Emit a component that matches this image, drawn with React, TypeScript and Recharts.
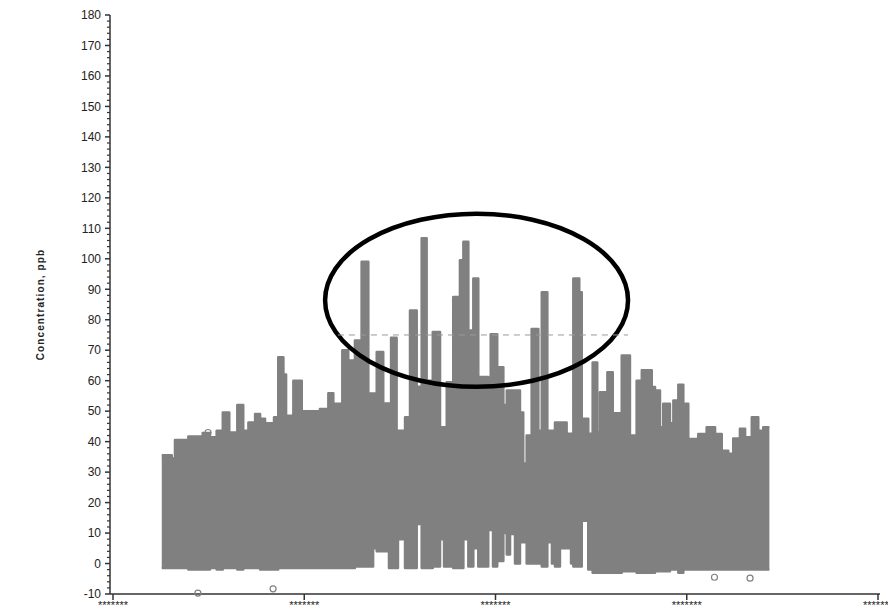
import React from 'react';
import {
  ComposedChart,
  Area,
  Scatter,
  XAxis,
  YAxis,
  ReferenceLine,
  ReferenceArea,
} from 'recharts';

// Day index along the time axis (segment start), the upper and lower envelope of the hourly data
const days = [
  25.5, 30.7, 32.4, 39.4, 46.9, 50.7, 54.2, 57.4, 60.8, 65.0, 68.1, 70.8, 74.3, 76.9, 79.5, 84.2,
  86.4, 89.1, 90.5, 94.3, 98.7, 108.2, 112.6, 115.2, 119.9, 123.0, 126.5, 130.0, 133.5, 136.0,
  137.9, 141.3, 143.3, 144.3, 145.4, 148.3, 149.0, 152.7, 155.3, 158.8, 161.4, 164.0, 167.2,
  171.0, 173.1, 174.5, 177.9, 181.4, 183.2, 185.8, 188.4, 191.0, 196.2, 197.5, 198.7, 200.9,
  204.1, 205.9, 207.6, 210.2, 212.8, 214.5, 216.3, 218.9, 222.4, 224.2, 227.1, 229.5, 231.1,
  233.7, 237.2, 239.5, 240.7, 243.8, 245.1, 248.5, 250.8, 253.2, 254.6, 258.5, 261.3, 266.0,
  270.3, 273.8, 276.5, 281.7, 283.4, 286.0, 287.7, 291.2, 293.0, 295.6, 298.2, 300.8, 306.0,
  310.4, 314.8, 318.3, 321.7, 324.3, 327.8, 330.5, 334.0, 337.4, 340.0, 343.2,
];
const highs = [
  35.5, 34.5, 40.5, 41.7, 42.8, 41.4, 43.6, 49.6, 43.0, 52.0, 43.6, 46.3, 49.1, 47.5, 46.0, 48.0,
  67.7, 62.0, 48.5, 60.0, 50.0, 50.7, 55.9, 52.4, 70.0, 66.6, 73.2, 99.0, 55.8, 55.8,
  69.4, 52.5, 52.5, 52.5, 74.1, 43.6, 43.6, 48.0, 83.0, 58.0, 106.7, 60.0, 76.0,
  44.7, 44.7, 59.5, 87.5, 99.5, 105.6, 76.5, 93.5, 61.2, 52.5, 75.2, 75.2, 64.4,
  52.0, 56.8, 56.8, 56.8, 49.6, 32.8, 42.0, 77.0, 43.6, 89.0, 43.6, 43.6, 46.3,
  46.3, 42.6, 42.6, 93.5, 89.0, 47.5, 42.6, 66.0, 43.0, 56.2, 62.8, 49.3, 68.3,
  42.0, 60.0, 63.4, 57.9, 56.8, 44.7, 52.4, 46.0, 53.5, 58.7, 52.4, 40.9, 42.5,
  44.7, 42.5, 37.0, 36.0, 41.0, 44.2, 41.4, 48.0, 43.6, 44.7, 44.7,
];
const lows = [
  -1.5, -1.5, -1.5, -2, -2, -1.5, -2, -1.5, -1.5, -2, -1.5, -1.5, -1.5, -2, -2, -2,
  -1.5, -1.5, -1.5, -1.5, -1.5, -1.5, -1.5, -1.5, -1.5, -1.5, -1, -1, -1, 5,
  4, 4, 25, -1.5, -1.5, -1.5, 8, -1.5, -1.5, 13, -1.5, -1.5, -1,
  8, -1, -1, -1.5, -1.5, 8, -1, 5, -1, 11, 11, -1, 0.8,
  10, 3, 9.7, 0, 7, 7, 0, 0, 0, -1, 7, 0, -1,
  5, 5, 0, -1, -1, 14, -2, -3, -3, -3, -3, -3, -2.5,
  -2.5, -3, -3, -3, -2.5, -2.5, -2.5, -2, -2, -3, -2, -2, -2,
  -2, -2, -2, -2, -2, -2, -2, -2, -2, -2, -2,
];

// Isolated hourly readings drawn as open circles
const outlierDays = [44.4, 83.7, 314.5, 333.1, 49.7];
const outlierValues = [-9.7, -8.3, -4.5, -4.8, 43.0];

const xTicks = [0, 100, 200, 300, 400];
const xTickLabels = ['*******', '*******', '*******', '*******', '*******'];
const yTicks = [-10, 0, 10, 20, 30, 40, 50, 60, 70, 80, 90, 100, 110, 120, 130, 140, 150, 160, 170, 180];
const yMinorTicks = Array.from({ length: 96 }, (_, i) => -10 + 2 * i);

const standardLevel = 75;
const standardFrom = 117.6;
const standardTo = 269.3;
const ellipseDays = [110.9, 269.3];
const ellipseValues = [58.0, 114.8];

const GRAY = '#808080';
const AXIS = '#333';

const bodyData = days.map((d, i) => ({ day: d, range: [lows[i], highs[i]] }));
const outlierData = outlierDays.map((d, i) => ({ day: d, value: outlierValues[i] }));

const EllipseShape = (props: any) => {
  const { x, y, width, height } = props;
  const h = Math.abs(height);
  const top = height < 0 ? y + height : y;
  return (
    <ellipse
      cx={x + width / 2}
      cy={top + h / 2}
      rx={width / 2}
      ry={h / 2}
      fill="none"
      stroke="#000"
      strokeWidth={4.5}
    />
  );
};

const OpenCircle = (props: any) => (
  <circle cx={props.cx} cy={props.cy} r={3} fill="none" stroke={GRAY} strokeWidth={1.2} />
);

// Y tick: long mark + label for majors, short mark for minors
const YTick = (props: any) => {
  const { x, y, payload } = props;
  const v = payload.value;
  const major = yTicks.includes(v);
  return (
    <g>
      <line x1={x - (major ? 5 : 3)} x2={x} y1={y} y2={y} stroke={AXIS} strokeWidth={major ? 1.5 : 1.2} />
      {major && (
        <text x={x - 9} y={y} dy="0.355em" textAnchor="end" fontSize={12} fill="#222">
          {v}
        </text>
      )}
    </g>
  );
};

export default function App() {
  return (
    <div style={{ width: 888, height: 615, background: '#fff' }}>
      <style>{'html,body{margin:0;padding:0;overflow:hidden;background:#fff}'}</style>
      <ComposedChart
        width={888}
        height={615}
        data={bodyData}
        margin={{ top: 15, right: 8, left: 0, bottom: 0 }}
        style={{ fontFamily: '"Liberation Sans", Arial, sans-serif' }}
      >
        <XAxis
          xAxisId="main"
          type="number"
          dataKey="day"
          domain={[0, 400]}
          ticks={xTicks}
          interval={0}
          allowDataOverflow
          padding={{ left: 3, right: 2 }}
          height={21}
          tickSize={6}
          tickMargin={1}
          tickFormatter={(v: number) => xTickLabels[xTicks.indexOf(v)] ?? ''}
          tick={{ fontSize: 11, fill: '#222' }}
          axisLine={{ stroke: AXIS, strokeWidth: 1.5 }}
          tickLine={{ stroke: AXIS, strokeWidth: 1.5 }}
        />
        <XAxis
          xAxisId="top"
          orientation="top"
          type="number"
          dataKey="day"
          domain={[0, 400]}
          height={0}
          tick={false}
          tickLine={false}
          axisLine={{ stroke: AXIS, strokeWidth: 1.5 }}
        />
        <YAxis
          yAxisId="main"
          type="number"
          domain={[-10, 180]}
          ticks={yMinorTicks}
          interval={0}
          width={110}
          tickSize={0}
          tickMargin={0}
          tickLine={false}
          tick={YTick}
          axisLine={{ stroke: AXIS, strokeWidth: 1.5 }}
          label={{
            value: 'Concentration, ppb',
            angle: -90,
            position: 'insideLeft',
            offset: 40,
            style: { fontSize: 10, fill: '#222', fontWeight: 700, letterSpacing: 1.1, textAnchor: 'middle' },
          }}
        />
        <YAxis
          yAxisId="frame"
          orientation="right"
          type="number"
          domain={[-10, 180]}
          width={0}
          tick={false}
          tickLine={false}
          axisLine={{ stroke: AXIS, strokeWidth: 1.5 }}
        />
        <Area
          xAxisId="main"
          yAxisId="main"
          type="stepAfter"
          dataKey="range"
          stroke={GRAY}
          strokeWidth={2.5}
          strokeLinejoin="round"
          fill={GRAY}
          fillOpacity={1}
          dot={false}
          activeDot={false}
          isAnimationActive={false}
        />
        <Scatter
          xAxisId="main"
          yAxisId="main"
          data={outlierData}
          dataKey="value"
          shape={OpenCircle}
          isAnimationActive={false}
        />
        <ReferenceLine
          xAxisId="main"
          yAxisId="main"
          segment={[
            { x: standardFrom, y: standardLevel },
            { x: standardTo, y: standardLevel },
          ]}
          stroke="#999"
          strokeWidth={1}
          strokeDasharray="6 5"
        />
        <ReferenceArea
          xAxisId="main"
          yAxisId="main"
          x1={ellipseDays[0]}
          x2={ellipseDays[1]}
          y1={ellipseValues[0]}
          y2={ellipseValues[1]}
          shape={EllipseShape}
        />
      </ComposedChart>
    </div>
  );
}
